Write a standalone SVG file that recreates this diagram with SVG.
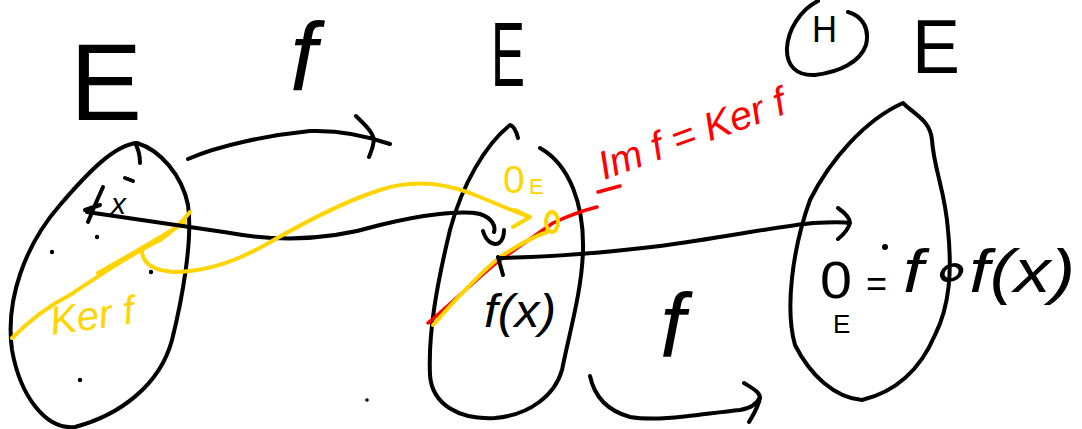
<svg xmlns="http://www.w3.org/2000/svg" width="1082" height="429" viewBox="0 0 1082 429">
<style>
.ink{fill:none;stroke:#000;stroke-width:4;stroke-linecap:round;stroke-linejoin:round}
.yel{fill:none;stroke:#ffd400;stroke-width:4;stroke-linecap:round;stroke-linejoin:round}
.red{fill:none;stroke:#ff0000;stroke-width:3.5;stroke-linecap:round;stroke-linejoin:round}
.t{font-family:"Liberation Sans",Arial,sans-serif;fill:#000}
.ty{font-family:"Liberation Sans",Arial,sans-serif;fill:#ffd400}
.tr{font-family:"Liberation Sans",Arial,sans-serif;fill:#ff0000}
.dot{fill:#000}
</style>
<rect width="1082" height="429" fill="#fff"/>

<g id="set-left">
<path class="ink" d="M137,143 C160,150 182,175 188,205 C193,240 182,300 172,340 C160,385 120,415 75,427 C45,430 20,395 12,350 C5,300 25,245 60,205 C90,170 115,145 137,143 Z"/>
<path class="ink" d="M135,143 C139,150 140,156 140,163"/>
<path class="yel" stroke-width="6" d="M12,338 C30,320 50,305 70,295 C100,275 130,255 160,240 C172,232 182,222 190,212"/>
<path class="yel" stroke-width="3" d="M98,273 C130,255 160,238 185,222"/>
<circle class="dot" cx="97" cy="237" r="2.2"/>
<circle class="dot" cx="52" cy="252" r="2.2"/>
<circle class="dot" cx="151" cy="272" r="2.2"/>
<circle class="dot" cx="80" cy="380" r="2.2"/>
<path class="ink" d="M103,187 C97,200 92,212 88,222 M85,210 L100,205 M125,178 L133,181"/>
<text class="t" x="111" y="214" font-size="30" font-style="italic">x</text>
<text class="ty" x="52" y="335" font-size="40" font-style="italic" transform="rotate(-8 52 335)">Ker f</text>
<text class="t" x="70" y="120" font-size="110" textLength="72" lengthAdjust="spacingAndGlyphs">E</text>
</g>

<g id="label-f-top">
<text class="t" x="290" y="90" font-size="96" font-style="italic">f</text>
</g>

<g id="set-middle">
<path class="ink" d="M518,138 C516,130 514,126 510,125 C485,145 462,185 450,230 C438,280 428,330 430,375 C432,405 460,420 495,418 C530,415 555,395 562,370 C570,330 582,290 583,250 C584,205 570,165 540,148"/>
<text class="t" x="491" y="86" font-size="90" textLength="34" lengthAdjust="spacingAndGlyphs">E</text>
<text class="t" x="484" y="327" font-size="46" font-style="italic" textLength="72" lengthAdjust="spacingAndGlyphs">f(x)</text>
</g>

<g id="set-right">
<path class="ink" d="M903,103 C915,115 930,120 932,140 C934,170 945,190 948,230 C952,270 950,305 935,335 C920,370 895,392 862,400 C835,398 810,375 795,345 C785,310 792,250 810,200 C830,160 865,120 903,103 Z"/>
<text class="t" x="912" y="73" font-size="76" textLength="48" lengthAdjust="spacingAndGlyphs">E</text>
<circle class="dot" cx="885" cy="247" r="3"/>
<text class="t" x="820" y="298" font-size="52" textLength="32" lengthAdjust="spacingAndGlyphs">0</text>
<text class="t" x="833" y="333" font-size="26">E</text>
<text class="t" x="866" y="296" font-size="36">=</text>
<text class="t" x="903" y="292" font-size="62" font-style="italic" textLength="172" lengthAdjust="spacingAndGlyphs">f∘f(x)</text>
</g>

<g id="label-H">
<path class="ink" d="M848,12 C862,16 870,28 866,45 C860,62 840,72 815,75 C797,76 786,66 787,48 C788,30 800,10 818,1"/>
<text class="t" x="812" y="42" font-size="36" textLength="25" lengthAdjust="spacingAndGlyphs">H</text>
</g>

<g id="label-f-bottom">
<text class="t" x="660" y="357" font-size="90" font-style="italic">f</text>
</g>

<g id="image-labels">
<path class="red" d="M428,323 C450,305 475,280 500,260 C520,246 540,232 553,223 C570,215 585,210 597,207 M598,192 L620,186"/>
<text class="tr" x="604" y="180" font-size="40" font-style="italic" transform="rotate(-20 604 180)">Im f = Ker f</text>
<path class="yel" stroke-width="3" d="M433,325 C455,300 478,275 500,257 C515,247 530,238 547,232"/>
<ellipse class="yel" cx="552" cy="222" rx="6" ry="10"/>
<text class="ty" x="503" y="193" font-size="39">0</text>
<text class="ty" x="529" y="194" font-size="22">E</text>
</g>

<g id="connectors">
<path class="ink" d="M188,159 C220,145 270,135 310,131 C340,130 370,137 390,144 M356,116 C365,125 373,132 374,140 C373,148 371,152 369,157"/>
<path class="ink" d="M87,212 C130,218 180,226 230,233 C280,242 330,240 380,225 C420,215 460,210 480,214 C492,218 496,226 494,232 M483,231 C486,242 494,246 499,243 C503,240 504,235 504,230 M498,257 L503,275"/>
<path class="ink" d="M500,258 C560,257 610,252 660,246 C720,238 780,226 813,223 C830,222 845,222 850,223 M838,208 C845,213 850,218 850,223 C848,230 843,235 838,239"/>
<path class="yel" d="M142,252 C143,262 150,270 173,272 C205,272 235,262 265,245 C300,225 340,203 380,190 C410,180 440,182 470,193 C495,203 515,212 530,217 M515,210 L530,217 L513,227"/>
<path class="ink" d="M590,376 C594,395 605,410 630,417 C660,422 700,414 740,410 C752,408 758,402 760,397 M744,383 C752,388 760,392 760,398 C758,408 753,415 749,422"/>
<circle class="dot" cx="367" cy="400" r="1.8"/>
</g>
</svg>
